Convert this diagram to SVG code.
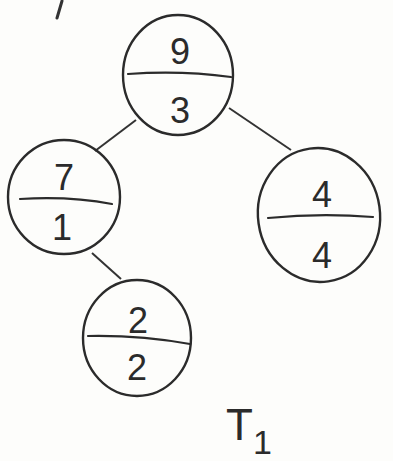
<svg xmlns="http://www.w3.org/2000/svg" width="393" height="461" viewBox="0 0 393 461">
<style>
.n{fill:none;stroke:#2b2b2b;stroke-width:2.4}
.d{fill:none;stroke:#2b2b2b;stroke-width:2.2;stroke-linecap:round}
.e{fill:none;stroke:#333;stroke-width:2}
.t{font-family:"Liberation Sans",Arial,sans-serif;font-size:36px;fill:#2b2b2b;text-anchor:middle}
.l{font-family:"Liberation Sans",Arial,sans-serif;fill:#2b2b2b}
</style>
<rect width="393" height="461" fill="#fdfdfb"/>
<path d="M62 1 L57 18" fill="none" stroke="#333" stroke-width="3" stroke-linecap="round"/>
<g id="connectors">
<path class="e" d="M136 120 L95 151"/>
<path class="e" d="M229 108 L291 150"/>
<path class="e" d="M92 253 L121 279"/>
</g>
<g id="n93">
<ellipse class="n" cx="178" cy="75" rx="55" ry="60"/>
<path class="d" d="M128 74 Q180 70 231 77"/>
<text class="t" x="180" y="64">9</text>
<text class="t" x="180" y="123">3</text>
</g>
<g id="n71">
<ellipse class="n" cx="64" cy="197" rx="56" ry="57"/>
<path class="d" d="M20 199 Q70 196 112 204"/>
<text class="t" x="64" y="190">7</text>
<text class="t" x="62" y="240">1</text>
</g>
<g id="n44">
<ellipse class="n" cx="319" cy="215" rx="61" ry="67" transform="rotate(-8 319 215)"/>
<path class="d" d="M268 218 Q320 213 373 217"/>
<text class="t" x="322" y="207" font-size="42">4</text>
<text class="t" x="322" y="268">4</text>
</g>
<g id="n22">
<ellipse class="n" cx="137" cy="338" rx="54" ry="58"/>
<path class="d" d="M88 336 Q140 335 190 344"/>
<text class="t" x="138" y="333">2</text>
<text class="t" x="137" y="380">2</text>
</g>
<text class="l" x="226" y="440" font-size="44">T<tspan font-size="34" dy="14">1</tspan></text>
</svg>
